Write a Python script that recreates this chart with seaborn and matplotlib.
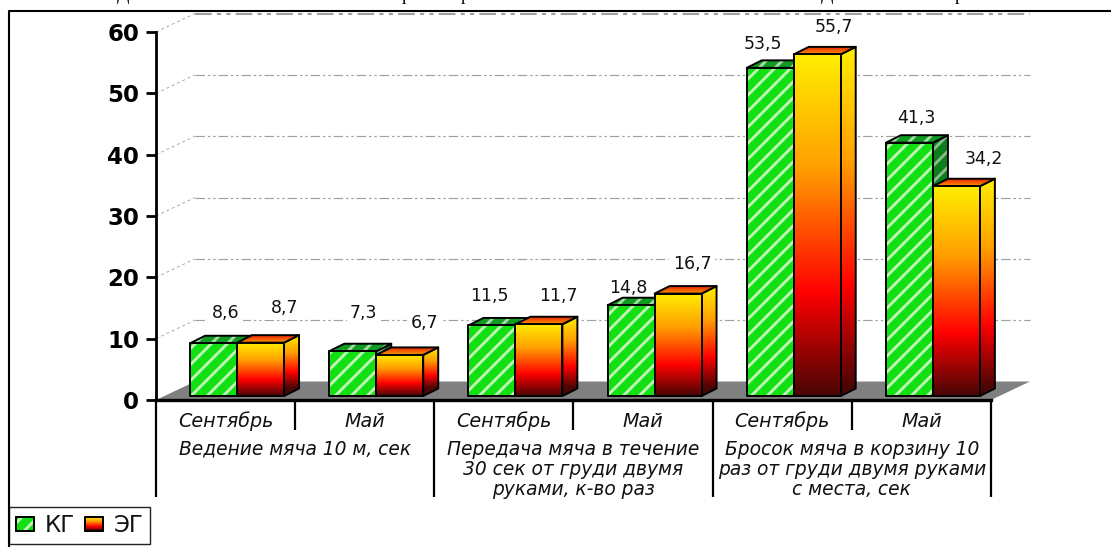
import numpy as np
import pandas as pd
import matplotlib
matplotlib.use('Agg')
import matplotlib.pyplot as plt
import seaborn as sns
from matplotlib.colors import LinearSegmentedColormap, to_rgb
from matplotlib.lines import Line2D
from matplotlib.patches import Patch, Polygon
from matplotlib.transforms import IdentityTransform

# values
periods = ['Сентябрь', 'Май', 'Сентябрь', 'Май', 'Сентябрь', 'Май']
tests = ['Ведение мяча 10 м, сек',
         'Передача мяча в течение\n30 сек от груди двумя\nруками, к-во раз',
         'Бросок мяча в корзину 10\nраз от груди двумя руками\nс места, сек']
kg_values = [8.6, 7.3, 11.5, 14.8, 53.5, 41.3]
eg_values = [8.7, 6.7, 11.7, 16.7, 55.7, 34.2]
y_ticks = [0, 10, 20, 30, 40, 50, 60]
series_names = ['КГ', 'ЭГ']

W, H = 1111, 547
# where the value labels sit, pixels away from the top centre of the bar
kg_offsets = [(12, 30), (11, 38), (-3, 29), (-3, 17), (-7, 24), (7, 25)]
eg_offsets = [(24, 35), (25, 32), (19, 28), (14, 30), (17, 27), (27, 27)]

sns.set_theme(style='white')
plt.rcParams['font.family'] = ['DejaVu Sans']

df = pd.DataFrame({
    'slot': list(range(6)) * 2,
    'value': kg_values + eg_values,
    'group': [series_names[0]] * 6 + [series_names[1]] * 6,
})

fig = plt.figure(figsize=(W / 100, H / 100), dpi=100, facecolor='white')
ax = fig.add_axes([156 / W, (H - 400) / H, 835 / W, 368 / H])
sns.barplot(data=df, x='slot', y='value', hue='group', palette=['#12e012', '#ff9000'],
            width=0.675, gap=0, saturation=1, legend=False, ax=ax, errorbar=None)
ax.set_xlim(-0.5, 5.5)
ax.set_ylim(0, 60)
ax.autoscale(False)
ax.patch.set_alpha(0)
ax.set_xlabel('')
ax.set_ylabel('')

fire = LinearSegmentedColormap.from_list('fire', [(0, '#ffee00'), (0.33, '#ffa000'),
                                                  (0.7, '#ff0000'), (1, '#4a0505')])
top_fire = LinearSegmentedColormap.from_list('top_fire', ['#e41400', '#ff9800'])

identity = IdentityTransform()


def stripes(x0, y0, w, h, base, light):
    # diagonal pale stripes of the green bars, one array cell per pixel
    xx, yy = np.meshgrid(np.arange(w) + x0, np.arange(h) + y0)
    d = np.mod(xx - yy, 16.0)
    mask = np.clip((3.0 - np.abs(d - 8)) / 2.0, 0, 1)[..., None]
    return np.array(to_rgb(base)) * (1 - mask) + np.array(to_rgb(light)) * mask


def paint(points, kind, z, full=None):
    # fill one face (pixel corners) with a stripe or gradient image, then outline it
    pts = np.array(points, dtype=float)
    x0, y0 = np.floor(pts.min(axis=0))
    x1, y1 = np.ceil(pts.max(axis=0))
    w, h = max(int(x1 - x0), 1), max(int(y1 - y0), 1)
    if isinstance(kind, tuple):
        arr = stripes(x0, y0, w, h, *kind)
    else:
        lo, hi = full if full else (y0, y1)
        frac = (hi - (np.arange(h) + y0)) / max(hi - lo, 1)
        arr = kind(np.clip(frac, 0, 1))[:, None, :3]
        arr = np.repeat(arr, w, axis=1)
    outline = Polygon(pts, closed=True, fill=False, edgecolor='black', linewidth=1.4,
                      joinstyle='round', transform=identity, zorder=z + 0.5, clip_on=False)
    ax.add_patch(outline)
    im = ax.imshow(arr, extent=(x0, x1, y0, y1), origin='lower', aspect='auto',
                   transform=identity, zorder=z, interpolation='nearest')
    im.set_clip_box(fig.bbox)
    im.set_clip_path(outline)


to_px = ax.transData.transform
left, right = to_px((-0.5, 0))[0], to_px((5.5, 0))[0]
wall_dx, wall_dy = 39, 18.5

# back wall grid lines, they start from the axis ticks
for tick in y_ticks[1:]:
    x, y = to_px((-0.5, tick))
    ax.plot([x, x + wall_dx], [y, y + wall_dy], transform=identity, color='#a8a8a8', lw=0.7,
            ls=(0, (3, 3)), clip_on=False, zorder=0.5)
    ax.plot([x + wall_dx, right + wall_dx], [y + wall_dy, y + wall_dy], transform=identity,
            color='#a0a0a0', lw=1.5 if tick == 60 else 0.85, ls=(0, (8, 2.5, 2, 2.5, 2, 2.5)),
            clip_on=False, zorder=0.5)

# floor
y_floor = to_px((0, 0))[1]
ax.add_patch(Polygon([(left, y_floor), (right, y_floor), (right + wall_dx, y_floor + wall_dy),
                      (left + wall_dx, y_floor + wall_dy)], closed=True, facecolor='#808080',
                     edgecolor='none', transform=identity, clip_on=False, zorder=1))

# 3d faces on top of what seaborn drew
shift_x, shift_y = 11.5, 4
depth_x, depth_y = 15, 7.5
z = 3
green_top = ('#109c22', '#a8dca8')
green_side = ('#0b7f1c', '#8cbc8c')
green_front = ('#12e012', '#c4f4bc')
for container, values, offsets in zip(ax.containers, [kg_values, eg_values], [kg_offsets, eg_offsets]):
    is_green = container is ax.containers[0]
    for bar, value, off in zip(container, values, offsets):
        bar.set_visible(False)
        (x0, y0) = to_px((bar.get_x(), 0)) + (shift_x, shift_y)
        (x1, y1) = to_px((bar.get_x() + bar.get_width(), bar.get_height())) + (shift_x, shift_y)
        side = [(x1, y0), (x1 + depth_x, y0 + depth_y), (x1 + depth_x, y1 + depth_y), (x1, y1)]
        top = [(x0, y1), (x1, y1), (x1 + depth_x, y1 + depth_y), (x0 + depth_x, y1 + depth_y)]
        front = [(x0, y0), (x1, y0), (x1, y1), (x0, y1)]
        if is_green:
            paint(side, green_side, z)
            paint(top, green_top, z + 1)
            paint(front, green_front, z + 2)
        else:
            paint(side, fire, z, full=(y0 + depth_y, y1 + depth_y))
            paint(top, top_fire, z + 1)
            paint(front, fire, z + 2, full=(y0, y1))
        z += 3
        ax.annotate(f'{value}'.replace('.', ','), xy=((x0 + x1) / 2, y1), xycoords=identity,
                    xytext=off, textcoords='offset pixels', ha='center', va='center', fontsize=12.5,
                    color='#111111', zorder=2, annotation_clip=False,
                    bbox=dict(boxstyle='square,pad=0.2', facecolor='white', edgecolor='none'))

# axes
sns.despine(ax=ax, top=True, right=True)
ax.spines['left'].set_linewidth(2.0)
ax.spines['left'].set_color('black')
ax.spines['bottom'].set_linewidth(2.4)
ax.spines['bottom'].set_color('black')
ax.spines['left'].set_zorder(2.5)
ax.spines['bottom'].set_zorder(2.5)
ax.set_yticks(y_ticks)
ax.tick_params(axis='y', left=True, length=7.5, width=2.0, color='black', pad=4.5,
               labelsize=16.5, labelcolor='black')
for label in ax.get_yticklabels():
    label.set_fontweight('bold')
ax.set_xticks(range(6), periods, style='italic', fontsize=13.8, color='#111111')
ax.tick_params(axis='x', bottom=False, pad=2.5)

# two level category axis
sub_depth = 30 / 6.133
group_depth = 97 / 6.133
ax.vlines([0.5, 2.5, 4.5], 0, -sub_depth, color='black', lw=1.6, clip_on=False)
ax.vlines([-0.5, 1.5, 3.5, 5.5], 0, -group_depth, color='black', lw=1.6, clip_on=False)
for center, name in zip([0.5, 2.5, 4.5], tests):
    ax.text(center, -39.5 / 6.133, name, ha='center', va='top', style='italic', fontsize=13.4,
            color='#111111', linespacing=1.07, clip_on=False)

# frame of the picture, only the left and top sides are in the crop
fig.add_artist(Line2D([8.5 / W, 8.5 / W, 1], [0, 1 - 11 / H, 1 - 11 / H], color='black', lw=1.5))

# cut off letters of the caption above the chart
for px, letter in [(123, 'Д'), (406, 'р'), (465, 'р'), (827, 'Д'), (959, 'р')]:
    fig.text(px / W, 1 + 0.5 / H, letter, family='Liberation Serif', fontsize=13, ha='center',
             va='baseline', color='black')

# legend
handles = [Patch(facecolor='#12e012', edgecolor='black', lw=1.2),
           Patch(facecolor='#ff9000', edgecolor='black', lw=1.2)]
leg = ax.legend(handles, series_names, loc='lower left', bbox_to_anchor=(9, H - 544),
                bbox_transform=identity, ncol=2, fontsize=16.5, handlelength=0.8, handleheight=0.53,
                handletextpad=0.45, columnspacing=0.45, borderpad=0.3, borderaxespad=0,
                fancybox=False, framealpha=1, edgecolor='#222222', labelcolor='#111111')
leg.get_frame().set_linewidth(1.0)
leg.set_zorder(100)
fig.canvas.draw()
for handle, kind in zip(leg.legend_handles, [green_front, fire]):
    box = handle.get_window_extent()
    paint([(box.x0, box.y0), (box.x1, box.y0), (box.x1, box.y1), (box.x0, box.y1)], kind, 101)

fig.savefig('out.png', dpi=100)
plt.close(fig)
